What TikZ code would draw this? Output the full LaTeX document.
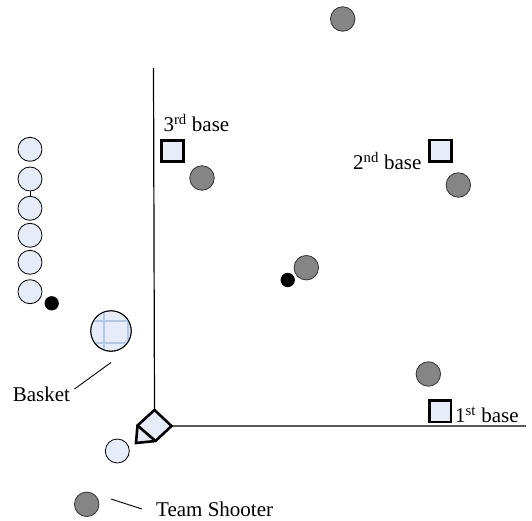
\documentclass[tikz,border=0pt]{standalone}
\usepackage{fontspec}
\setmainfont{Liberation Serif}
\definecolor{lb}{HTML}{E6ECF8}
\definecolor{gr}{HTML}{858585}
\definecolor{gridb}{HTML}{B4C8E6}
\tikzset{
  player/.style={circle,draw=black,fill=lb,minimum size=24pt,inner sep=0pt,line width=0.8pt},
  fielder/.style={circle,draw=black!80,fill=gr,minimum size=24.5pt,inner sep=0pt,line width=0.8pt},
  dotb/.style={circle,fill=black,minimum size=14.3pt,inner sep=0pt},
  basebox/.style={draw=black,fill=lb,line width=2.6pt,minimum size=21.5pt,inner sep=0pt},
  lbl/.style={font=\fontsize{21}{24}\selectfont,inner sep=0pt},
  thin/.style={line width=0.9pt}
}
\begin{document}
\begin{tikzpicture}[x=1pt,y=-1pt]
\useasboundingbox (0,0) rectangle (532,521);

% foul lines
\coordinate (vtop) at (153.5,68);
\coordinate (htop) at (526,426);
% home plate
\coordinate (hpT) at (154.5,410);
\coordinate (hpR) at (171.5,426);
\coordinate (hpB) at (155.5,441);
\coordinate (hpP) at (136,443);
\coordinate (hpL) at (137.5,425.5);
\draw[line width=1.2pt] (vtop) -- (hpT);
\draw[line width=1.4pt,black!65] (hpR) -- (htop);
\draw[line width=2.6pt,fill=lb,line join=miter] (hpT) -- (hpR) -- (hpB) -- (hpP) -- (hpL) -- cycle;
\draw[line width=2.6pt] (hpL) -- (hpB);

% bases
\node[basebox] (b3) at (172.5,151) {};
\node[basebox] (b2) at (440.5,150.7) {};
\node[basebox] (b1) at (440.3,411.3) {};
\node[lbl,anchor=base west] (l3) at (163.3,131.7) {3\textsuperscript{rd} base};
\node[lbl,anchor=base west] (l2) at (353,170) {2\textsuperscript{nd} base};
\node[lbl,anchor=base west] (l1) at (455,422.7) {1\textsuperscript{st} base};

% fielders
\node[fielder] (f0) at (342.7,19) {};
\node[fielder] (f3) at (202,178) {};
\node[fielder] (f2) at (458.3,185) {};
\node[fielder] (fm) at (306.3,267.7) {};
\node[fielder] (f1) at (428.3,374) {};
\node[fielder] (fs) at (86.7,504.3) {};

% dots
\node[dotb] (d1) at (51.7,303.3) {};
\node[dotb] (d2) at (287.7,280) {};

% line of players
\node[player] (p1) at (30,149.3) {};
\node[player] (p2) at (30,179) {};
\node[player] (p3) at (30,208.3) {};
\node[player] (p4) at (30,235.3) {};
\node[player] (p5) at (30,262.3) {};
\node[player] (p6) at (30,291.7) {};
\draw[thin] (p2.south) -- (p3.north);
\node[player] (bat) at (117.3,451) {};

% basket
\node[circle,draw=black,fill=lb,minimum size=40.5pt,inner sep=0pt,line width=0.8pt] (bk) at (111,331) {};
\begin{scope}
  \clip (111,331) circle (19.8pt);
  \draw[gridb,line width=2.2pt] (104.3,300) -- (104.3,360) (127.7,300) -- (127.7,360)
     (80,321) -- (140,321) (80,343) -- (140,343);
\end{scope}
\draw[line width=0.8pt] (bk) circle (20.25pt);
\node[lbl,anchor=base west] (lb) at (12.7,401.7) {Basket};
\coordinate (lbA) at (74.5,389);
\coordinate (lbB) at (111,362.5);
\draw[thin] (lbA) -- (lbB);

% team shooter
\node[lbl,anchor=base west] (ts) at (156,516.7) {Team Shooter};
\coordinate (tsA) at (111,499);
\coordinate (tsB) at (142,509);
\draw[thin] (tsA) -- (tsB);
\end{tikzpicture}
\end{document}
